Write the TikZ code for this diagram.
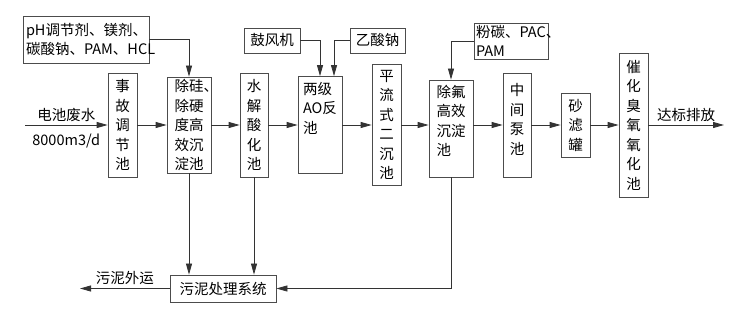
\documentclass[tikz,border=0pt]{standalone}
\usepackage{fontspec}
\setmainfont{Noto Sans CJK SC}
\usetikzlibrary{arrows.meta,positioning}

\begin{document}
\begin{tikzpicture}[x=1pt,y=-1pt,
    font=\fontsize{14.5}{19.5}\selectfont,
    box/.style={draw=black!70, line width=0.8pt, inner sep=0pt, align=center},
    flow/.style={draw=black!80, line width=0.8pt, -{Triangle[length=11pt,width=6pt]}}]
    \useasboundingbox (0,0) rectangle (741,312);

    % 主流程
    \node[box, minimum width=29pt, minimum height=104pt] (tiaojie) at (122.5,125) {事\\故\\调\\节\\池};
    \node[box, minimum width=44pt, minimum height=96pt, text width=29pt, align=left] (chugui) at (189,125) {除硅、\\除硬\\度高\\效沉\\淀池};
    \node[box, minimum width=28pt, minimum height=104pt] (shuijie) at (254,125) {水\\解\\酸\\化\\池};
    \node[box, minimum width=44pt, minimum height=97pt] (ao) at (320,125) {};
    \node[below=6pt of ao.north, align=left, inner sep=0pt] (aotxt) {两级\\AO反\\池};
    \node[box, minimum width=29pt, minimum height=121pt] (erchen) at (386.5,125) {平\\流\\式\\二\\沉\\池};
    \node[box, minimum width=44pt, minimum height=97pt] (chufu) at (451,128.5) {};
    \node[below=5pt of chufu.north, align=left, inner sep=0pt] (chufutxt) {除氟\\高效\\沉淀\\池};
    \node[box, minimum width=28pt, minimum height=104pt] (bengchi) at (517,125) {};
    \node[below=11pt of bengchi.north, align=center, inner sep=0pt] (bengchitxt) {中\\间\\泵\\池};
    \node[box, minimum width=29pt, minimum height=64pt] (shalv) at (575.5,125) {砂\\滤\\罐};
    \node[box, minimum width=29pt, minimum height=144pt] (chouyang) at (633.5,125) {催\\化\\臭\\氧\\氧\\化\\池};

    % 加药、曝气
    \node[box, minimum width=126pt, minimum height=47pt, text width=120pt, align=left] (yaoji) at (86,39.5) {pH调节剂、镁剂、\\碳酸钠、PAM、HCL};
    \node[box, minimum width=56pt, minimum height=25pt] (gufeng) at (272,40.5) {鼓风机};
    \node[box, minimum width=55pt, minimum height=25pt] (yisuan) at (377.5,40.5) {乙酸钠};
    \node[box, minimum width=74pt, minimum height=36pt, text width=70pt, align=left] (fentan) at (511,41) {粉碳、PAC、\\PAM};

    % 污泥
    \node[box, minimum width=106pt, minimum height=27pt] (wuni) at (223,288.5) {污泥处理系统};

    % 进出口
    \coordinate (jinshui) at (25,125);
    \coordinate (chushui) at (724,125);
    \coordinate (waiyun) at (80,288.5);

    % 水流
    \draw[flow] (jinshui) -- (tiaojie) node[midway, above] {电池废水} node[midway, below=5pt] {8000m3/d};
    \draw[flow] (tiaojie) -- (chugui);
    \draw[flow] (chugui) -- (shuijie);
    \draw[flow] (shuijie) -- (ao);
    \draw[flow] (ao) -- (erchen);
    \draw[flow] (erchen) -- (erchen -| chufu.west);
    \draw[flow] (chufu.east |- bengchi) -- (bengchi);
    \draw[flow] (bengchi) -- (shalv);
    \draw[flow] (shalv) -- (chouyang);
    \draw[flow] (chouyang) -- (chushui) node[midway, above] {达标排放};

    % 药剂
    \draw[flow] (yaoji) -| (chugui);
    \draw[flow] (gufeng) -| (ao);
    \draw[flow] (yisuan) -| ([xshift=14pt]ao.north);
    \draw[flow] (fentan) -| (chufu);

    % 排泥
    \draw[flow] (chugui) -- (chugui |- wuni.north);
    \draw[flow] (shuijie) -- (shuijie |- wuni.north);
    \draw[flow] (chufu) |- (wuni);
    \draw[flow] (wuni) -- (waiyun) node[midway, above] {污泥外运};
\end{tikzpicture}
\end{document}
